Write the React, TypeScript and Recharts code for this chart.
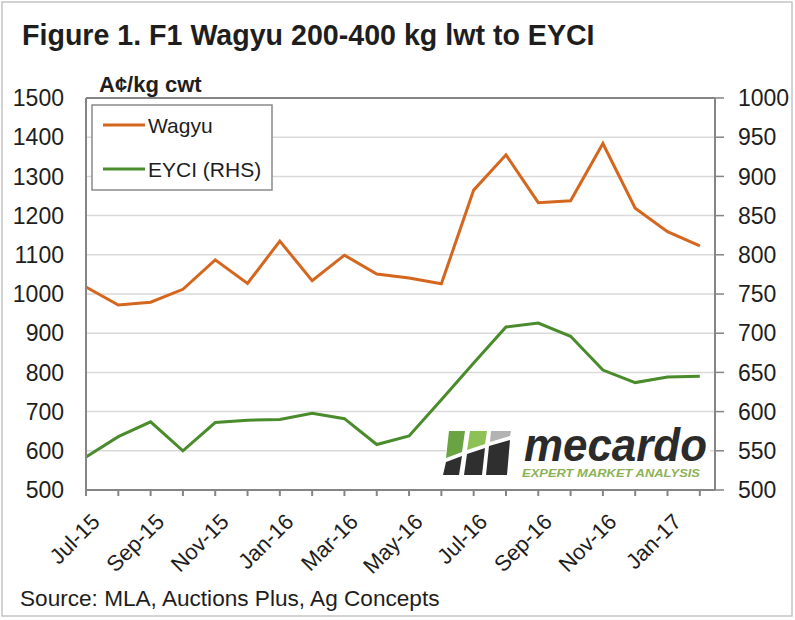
import React from 'react';
import { LineChart, Line, XAxis, YAxis, CartesianGrid, ReferenceLine } from 'recharts';

const months = ['Jul-15','Aug-15','Sep-15','Oct-15','Nov-15','Dec-15','Jan-16','Feb-16','Mar-16','Apr-16','May-16','Jun-16','Jul-16','Aug-16','Sep-16','Oct-16','Nov-16','Dec-16','Jan-17','Feb-17'];
const wagyu = [1018, 972, 979, 1012, 1087, 1027, 1135, 1034, 1099, 1051, 1041, 1026, 1265, 1355, 1233, 1238, 1384, 1219, 1159, 1123];
const eyci = [542, 568, 587, 550, 586, 589, 590, 598, 591, 558, 569, 615, 662, 708, 713, 696, 653, 637, 644, 645];
const leftTicks = [500, 600, 700, 800, 900, 1000, 1100, 1200, 1300, 1400, 1500];
const rightTicks = [500, 550, 600, 650, 700, 750, 800, 850, 900, 950, 1000];
const monthTicks = months.map((_, i) => i);

const data = months.map((m, i) => ({ i, month: m, wagyu: wagyu[i], eyci: eyci[i] }));

const FONT = '"Liberation Sans", Arial, sans-serif';
const ORANGE = '#D5661E';
const GREEN = '#4A8B2C';
const AXIS = '#858585';
const TEXT = '#1e1e1e';

export default function App() {
  return (
    <div style={{ position: 'absolute', left: 0, top: 0, width: 795, height: 620, background: '#fff', fontFamily: FONT }}>
      <LineChart width={795} height={620} data={data} margin={{ top: 98, right: 8, bottom: 30, left: 8 }}>
        <CartesianGrid yAxisId="left" horizontal={true} vertical={false} stroke="#d9d9d9" strokeWidth={1.5} />
        <XAxis
          type="number"
          dataKey="i"
          domain={[0, 19.47]}
          ticks={monthTicks}
          interval={0}
          tickFormatter={(v: number) => (v % 2 === 0 ? months[v] : '')}
          angle={-45}
          textAnchor="end"
          height={100}
          tickSize={6}
          tickMargin={16}
          tick={{ fontSize: 22, fill: TEXT, fontFamily: FONT, dx: 4 }}
          axisLine={{ stroke: AXIS, strokeWidth: 2 }}
          tickLine={{ stroke: AXIS, strokeWidth: 2 }}
        />
        <YAxis
          yAxisId="left"
          domain={[500, 1500]}
          ticks={leftTicks}
          interval={0}
          width={78}
          tickLine={false}
          tickSize={6}
          tickMargin={16}
          tick={{ fontSize: 23, fill: TEXT, fontFamily: FONT }}
          axisLine={{ stroke: AXIS, strokeWidth: 2 }}
        />
        <YAxis
          yAxisId="right"
          orientation="right"
          domain={[500, 1000]}
          ticks={rightTicks}
          interval={0}
          width={72}
          tickSize={9}
          tickMargin={14}
          tick={{ fontSize: 23, fill: TEXT, fontFamily: FONT, textAnchor: 'start' }}
          axisLine={{ stroke: AXIS, strokeWidth: 2 }}
          tickLine={{ stroke: AXIS, strokeWidth: 1.5 }}
        />
        <ReferenceLine yAxisId="left" y={1500} stroke={AXIS} strokeWidth={2} />
        <Line yAxisId="left" type="linear" dataKey="wagyu" name="Wagyu" stroke={ORANGE} strokeWidth={3} dot={false} isAnimationActive={false} />
        <Line yAxisId="right" type="linear" dataKey="eyci" name="EYCI (RHS)" stroke={GREEN} strokeWidth={3} dot={false} isAnimationActive={false} />
      </LineChart>
      <svg width={795} height={620} style={{ position: 'absolute', left: 0, top: 0, pointerEvents: 'none' }}>
        <rect x={2} y={2} width={790} height={614} fill="none" stroke="#c4c4c4" strokeWidth={1.5} />
        <text x={22} y={45} fontSize={28.6} fontWeight="bold" fill={TEXT} fontFamily={FONT}>Figure 1. F1 Wagyu 200-400 kg lwt to EYCI</text>
        <text x={99} y={92} fontSize={22} fontWeight="bold" fill={TEXT} fontFamily={FONT}>A¢/kg cwt</text>
        <text x={20} y={606} fontSize={22.6} fill={TEXT} fontFamily={FONT}>Source: MLA, Auctions Plus, Ag Concepts</text>
        {/* legend */}
        <rect x={92} y={105} width={180} height={85} fill="#fff" stroke="#8a8a8a" strokeWidth={1.5} />
        <line x1={103} y1={125} x2={145} y2={125} stroke={ORANGE} strokeWidth={3} />
        <text x={148} y={133} fontSize={21} fill={TEXT} fontFamily={FONT}>Wagyu</text>
        <line x1={103} y1={169} x2={145} y2={169} stroke={GREEN} strokeWidth={3} />
        <text x={148} y={177} fontSize={21} fill={TEXT} fontFamily={FONT}>EYCI (RHS)</text>
        {/* logo */}
        <rect x={446} y={426} width={264} height={52} fill="#fff" />
        <polygon points="449,431 465,431 462,452 446,458" fill="#6aa342" />
        <polygon points="446,462 462,456 459,475 443,475" fill="#2f2f2f" />
        <polygon points="470,431 487,431 485,444 467,450" fill="#8dc155" />
        <polygon points="467,454 485,448 482,475 464,475" fill="#2f2f2f" />
        <polygon points="491,431 511,431 510,436 490,442" fill="#b3b3b3" />
        <polygon points="489,446 510,440 507,475 486,475" fill="#2f2f2f" />
        <text x={524} y={461} fontSize={46} fontWeight="bold" fontStyle="italic" fill="#2b2b2b" fontFamily={FONT} textLength={183} lengthAdjust="spacingAndGlyphs">mecardo</text>
        <text x={522} y={477} fontSize={11} fontWeight="bold" fontStyle="italic" fill="#8db255" fontFamily={FONT} textLength={178} lengthAdjust="spacingAndGlyphs">EXPERT MARKET ANALYSIS</text>
      </svg>
    </div>
  );
}
